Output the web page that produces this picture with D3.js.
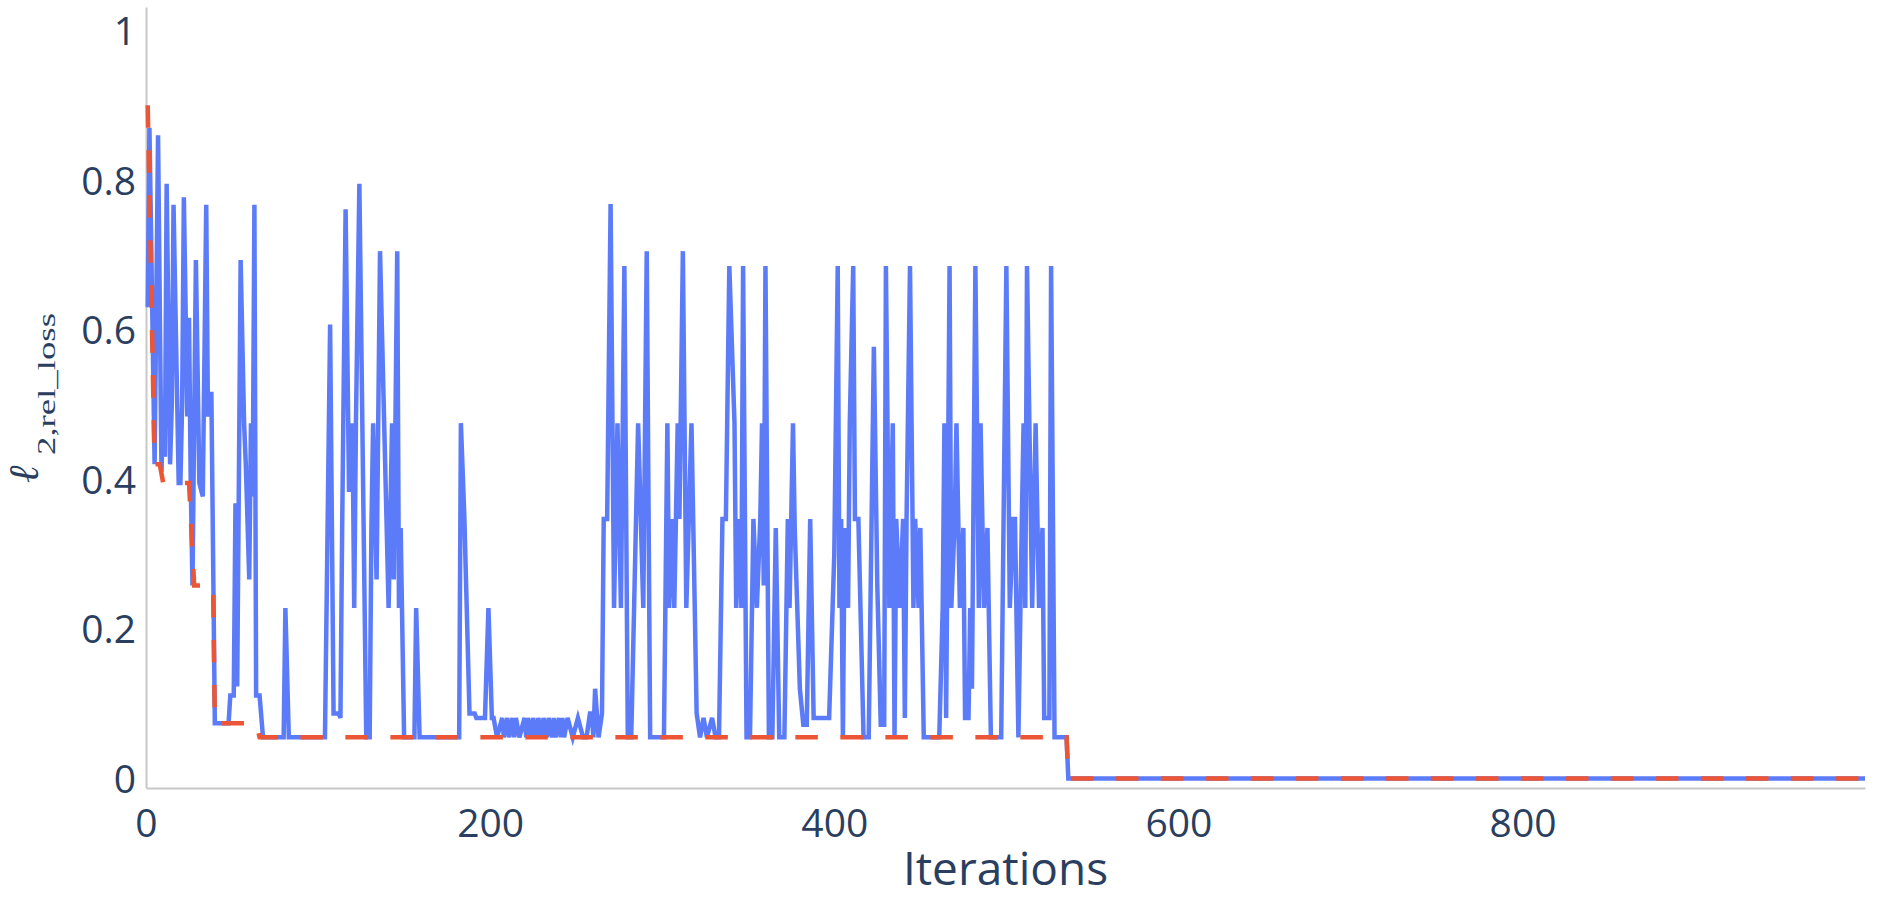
<!DOCTYPE html>
<html>
<head>
<meta charset="utf-8">
<script src="https://cdn.jsdelivr.net/npm/d3@7"></script>
<style>
  html, body { margin: 0; padding: 0; background: #ffffff; }
  svg { display: block; }
</style>
</head>
<body>
<svg id="chart" width="1879" height="913"></svg>
<script>
// ---- data ----
const lossIter = [1,2,5,7,9,10,11,12,14,15,16,18,19,20,21,22,24,25,26,27,29,31,33,35,36,37,38,40,48,49,51,52,53,55,57,58,60,61,62,63,64,66,68,80,81,83,104,107,109,112,113,114,116,118,120,121,122,124,128,130,131,132,134,136,141,143,144,146,147,148,150,156,157,159,182,183,185,188,191,192,197,199,201,202,204,207,208,210,211,213,214,215,217,220,221,222,224,225,227,228,230,231,233,234,236,237,238,240,241,242,243,245,248,251,254,256,258,259,260,261,263,265,266,268,270,272,274,276,278,280,282,286,289,291,293,301,303,304,306,307,309,310,312,314,317,320,322,324,326,329,331,333,335,337,339,342,343,345,346,347,349,351,353,355,357,358,359,360,362,364,366,368,371,373,374,376,377,380,382,384,386,388,397,400,402,403,404,405,406,408,409,411,412,414,417,420,423,425,427,429,430,432,434,435,436,438,440,441,442,444,446,447,449,450,452,461,463,464,465,467,468,470,471,473,475,476,478,479,480,482,484,485,487,489,491,497,500,502,504,505,507,509,510,511,512,515,516,517,519,521,522,525,526,528,535,536,999];
const lossValue = [0.63,0.87,0.42,0.86,0.41,0.50,0.43,0.795,0.42,0.50,0.767,0.52,0.395,0.395,0.50,0.777,0.484,0.616,0.395,0.258,0.693,0.395,0.377,0.767,0.484,0.514,0.514,0.074,0.074,0.111,0.111,0.368,0.123,0.693,0.475,0.42,0.266,0.475,0.377,0.767,0.111,0.111,0.055,0.055,0.228,0.055,0.055,0.607,0.087,0.087,0.081,0.335,0.761,0.383,0.475,0.228,0.475,0.795,0.055,0.055,0.335,0.475,0.266,0.705,0.228,0.475,0.266,0.705,0.228,0.335,0.055,0.055,0.228,0.055,0.055,0.475,0.35,0.087,0.087,0.081,0.081,0.228,0.081,0.081,0.055,0.081,0.055,0.081,0.055,0.081,0.055,0.081,0.055,0.081,0.055,0.081,0.055,0.081,0.055,0.081,0.055,0.081,0.055,0.081,0.055,0.081,0.055,0.081,0.055,0.081,0.055,0.081,0.055,0.081,0.055,0.055,0.087,0.087,0.055,0.120,0.055,0.087,0.347,0.347,0.768,0.228,0.475,0.228,0.685,0.055,0.055,0.475,0.228,0.705,0.055,0.055,0.475,0.228,0.347,0.228,0.475,0.347,0.705,0.228,0.475,0.087,0.055,0.081,0.055,0.081,0.055,0.055,0.347,0.347,0.685,0.475,0.228,0.347,0.228,0.685,0.055,0.055,0.347,0.228,0.347,0.475,0.258,0.685,0.055,0.055,0.335,0.055,0.055,0.347,0.228,0.475,0.335,0.120,0.072,0.072,0.347,0.081,0.081,0.30,0.685,0.228,0.347,0.055,0.335,0.228,0.475,0.685,0.347,0.347,0.055,0.055,0.577,0.258,0.072,0.072,0.685,0.228,0.475,0.055,0.347,0.228,0.347,0.081,0.347,0.685,0.228,0.347,0.228,0.335,0.055,0.055,0.228,0.475,0.081,0.685,0.228,0.347,0.475,0.228,0.335,0.081,0.081,0.228,0.120,0.685,0.228,0.475,0.228,0.335,0.055,0.055,0.685,0.228,0.347,0.347,0.055,0.347,0.475,0.228,0.685,0.228,0.347,0.475,0.228,0.335,0.081,0.081,0.685,0.055,0.055,0.0,0.0];

const bestIter = [1,5,8,10,25,28,39,40,64,66,535,536,999];
const bestValue = [0.90,0.42,0.42,0.395,0.395,0.258,0.258,0.074,0.074,0.055,0.055,0.0,0.0];

const xTicks = [0,200,400,600,800];
const yTicks = [0,0.2,0.4,0.6,0.8,1];
const yTickLabels = ["0","0.2","0.4","0.6","0.8","1"];
const xTitle = "Iterations";
const yTitleMain = "\u2113";
const yTitleSub = "2,rel_loss";

// ---- layout ----
const W = 1879, H = 913;
const plotLeft = 146, plotRight = 1865, plotTop = 7, plotBottom = 788;
const xDomain = [0, 999];
const yDomain = [-0.0127, 1.0314];
const textColor = "#2a3f5f";
const axisColor = "#c8c8c8";
const blue = "#5b7bf9";
const red = "#ec5535";

const svg = d3.select("#chart");
svg.append("rect").attr("width", W).attr("height", H).attr("fill", "#ffffff");

const x = d3.scaleLinear().domain(xDomain).range([plotLeft, plotRight]);
const y = d3.scaleLinear().domain(yDomain).range([plotBottom, plotTop]);

// axes
const xAxis = d3.axisBottom(x).tickValues(xTicks).tickFormat(d3.format("d")).tickSize(0).tickSizeOuter(0);
const gx = svg.append("g").attr("transform", `translate(0,${plotBottom})`).call(xAxis);
gx.select(".domain").attr("stroke", axisColor).attr("stroke-width", 2);
gx.selectAll(".tick line").remove();
gx.selectAll(".tick text")
  .attr("y", 49).attr("dy", 0)
  .attr("fill", textColor)
  .style("font-family", "'Open Sans', sans-serif")
  .style("font-size", "39px");

const yAxis = d3.axisLeft(y).tickValues(yTicks).tickFormat((d, i) => yTickLabels[i]).tickSize(0).tickSizeOuter(0);
const gy = svg.append("g").attr("transform", `translate(${plotLeft},0)`).call(yAxis);
gy.select(".domain").attr("stroke", axisColor).attr("stroke-width", 2);
gy.selectAll(".tick line").remove();
gy.selectAll(".tick text")
  .attr("x", -10).attr("dy", "0.36em")
  .attr("fill", textColor)
  .style("font-family", "'Open Sans', sans-serif")
  .style("font-size", "39px");

// lines
const lossData = lossIter.map((it, i) => [it, lossValue[i]]);
const bestData = bestIter.map((it, i) => [it, bestValue[i]]);
const line = d3.line().x(d => x(d[0])).y(d => y(d[1]));

svg.append("path")
  .datum(lossData)
  .attr("d", line)
  .attr("fill", "none")
  .attr("stroke", blue)
  .attr("stroke-width", 4.5);

svg.append("path")
  .datum(bestData)
  .attr("d", line)
  .attr("fill", "none")
  .attr("stroke", red)
  .attr("stroke-width", 4.5)
  .attr("stroke-dasharray", "22.5,22.5");

// x title
svg.append("text")
  .attr("x", (plotLeft + plotRight) / 2)
  .attr("y", 885)
  .attr("text-anchor", "middle")
  .attr("fill", textColor)
  .style("font-family", "'Open Sans', sans-serif")
  .style("font-size", "46px")
  .text(xTitle);

// y title (rotated, math-like)
const yt = svg.append("text")
  .attr("transform", "translate(38,487) rotate(-90)")
  .attr("fill", textColor);
yt.append("tspan")
  .attr("x", 4).attr("y", 0)
  .style("font-family", "'Liberation Serif', 'DejaVu Serif', serif")
  .style("font-style", "italic")
  .style("font-weight", "normal")
  .style("font-size", "42px")
  .text(yTitleMain);
yt.append("tspan")
  .attr("x", 32).attr("y", 16.5)
  .style("font-family", "'Liberation Serif', 'DejaVu Serif', serif")
  .style("font-size", "26px")
  .attr("textLength", 142).attr("lengthAdjust", "spacingAndGlyphs")
  .text(yTitleSub);
</script>
</body>
</html>
